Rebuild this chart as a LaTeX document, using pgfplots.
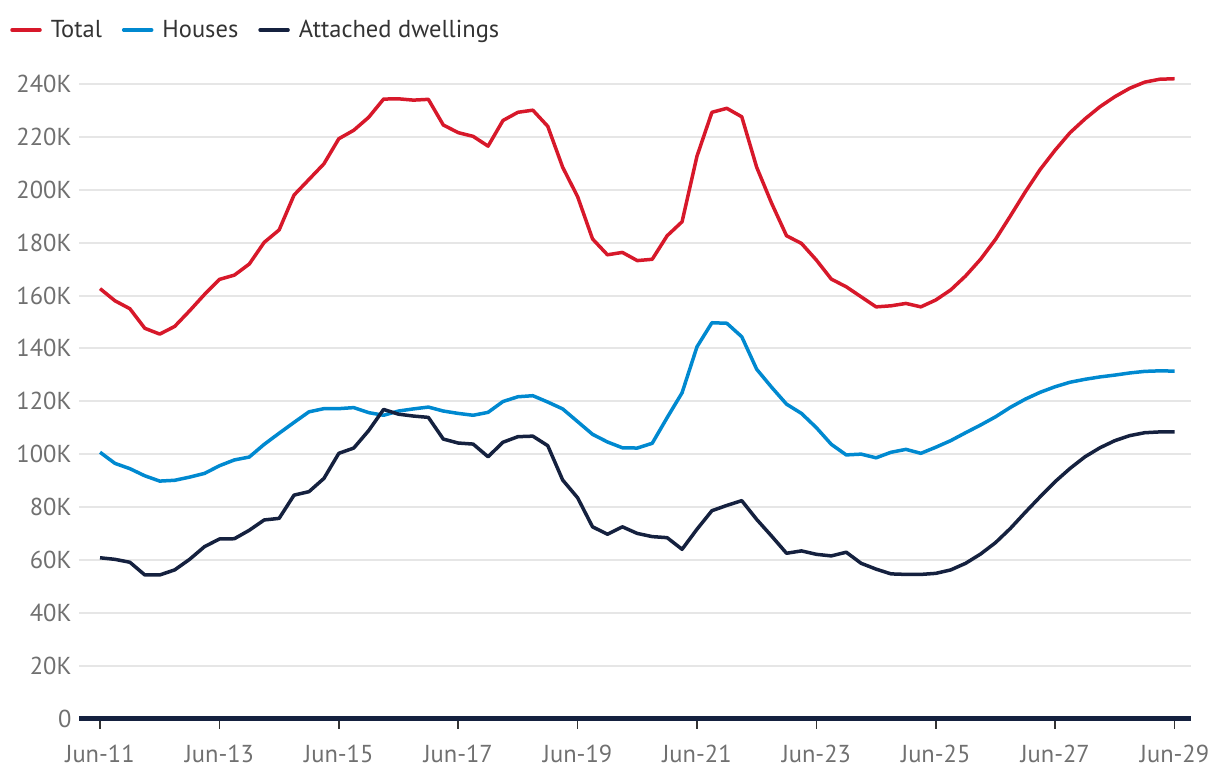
\documentclass[border=0pt]{standalone}
\usepackage{fontspec}
\setmainfont{PT Sans}
\usepackage{pgfplots}
\usepackage{pgfplotstable}
\pgfplotsset{compat=1.18}
\definecolor{cTotal}{HTML}{D7182A}
\definecolor{cHouses}{HTML}{0089D0}
\definecolor{cAtt}{HTML}{15213F}
\definecolor{cGrid}{HTML}{E6E6E6}
\definecolor{cTick}{HTML}{707070}
\definecolor{cText}{HTML}{333333}
\pgfplotstableread{
q total houses attached
0 162.6 100.7 60.8
1 158.0 96.5 60.2
2 155.0 94.5 59.1
3 147.6 91.8 54.3
4 145.4 89.8 54.3
5 148.3 90.1 56.2
6 154.2 91.3 60.2
7 160.4 92.7 65.0
8 166.1 95.6 67.9
9 167.7 97.8 68.0
10 171.9 98.9 71.2
11 180.1 103.7 75.1
12 184.8 107.9 75.7
13 198.0 112.0 84.5
14 203.9 116.0 85.8
15 209.8 117.2 90.8
16 219.3 117.2 100.3
17 222.5 117.6 102.3
18 227.4 115.7 108.9
19 234.3 114.7 116.9
20 234.4 116.3 115.1
21 233.9 117.1 114.4
22 234.2 117.8 113.9
23 224.5 116.3 105.7
24 221.6 115.4 104.2
25 220.2 114.7 103.8
26 216.5 115.8 99.0
27 226.2 119.9 104.5
28 229.3 121.7 106.6
29 230.1 122.1 106.8
30 224.0 119.7 103.2
31 208.5 117.1 90.2
32 197.4 112.3 83.5
33 181.4 107.5 72.5
34 175.4 104.6 69.7
35 176.3 102.4 72.5
36 173.2 102.3 70.0
37 173.7 104.1 68.8
38 182.6 113.8 68.4
39 187.9 123.2 64.0
40 212.7 140.6 71.6
41 229.3 149.7 78.6
42 230.8 149.5 80.6
43 227.6 144.4 82.4
44 208.5 132.1 75.3
45 194.9 125.3 69.0
46 182.6 118.9 62.5
47 179.7 115.4 63.4
48 173.4 110.0 62.1
49 166.2 103.7 61.5
50 163.3 99.7 62.9
51 159.5 100.0 58.7
52 155.7 98.6 56.5
53 156.1 100.7 54.7
54 157.0 101.8 54.5
55 155.7 100.3 54.5
56 158.3 102.6 54.9
57 162.1 105.1 56.2
58 167.4 108.1 58.7
59 173.7 111.0 62.2
60 181.2 114.1 66.5
61 190.1 117.7 71.9
62 199.2 120.8 78.0
63 207.7 123.4 83.9
64 215.0 125.5 89.6
65 221.6 127.2 94.6
66 226.8 128.3 99.0
67 231.4 129.2 102.4
68 235.2 129.9 105.1
69 238.4 130.7 107.0
70 240.7 131.3 108.1
71 241.8 131.5 108.4
72 242.0 131.4 108.4
}\datatable
\begin{document}
\begin{tikzpicture}
\path[use as bounding box] (0bp,0bp) rectangle (1220bp,784bp);
\begin{axis}[
  at={(79bp,65.5bp)}, anchor=south west,
  scale only axis, width=1112bp, height=648.5bp,
  xmin=-1.41, xmax=73.1, ymin=0, ymax=245.3,
  axis x line*=bottom, axis y line*=left,
  y axis line style={draw=none},
  x axis line style={line width=4bp, color=cAtt, -},
  every outer x axis line/.append style={line width=4bp, color=cAtt},
  xtick={0,8,...,72},
  xticklabels={Jun-11,Jun-13,Jun-15,Jun-17,Jun-19,Jun-21,Jun-23,Jun-25,Jun-27,Jun-29},
  xtick align=outside,
  major tick length=10bp,
  x tick style={line width=1.5bp, color=cText},
  ytick={0,20,...,240},
  yticklabels={0,20K,40K,60K,80K,100K,120K,140K,160K,180K,200K,220K,240K},
  y tick style={draw=none},
  ymajorgrids,
  y grid style={line width=2bp, color=cGrid},
  every tick label/.append style={font=\fontsize{24.5bp}{29bp}\selectfont, text=cTick},
  yticklabel style={xshift=-4bp},
  xticklabel style={yshift=-13bp},
  legend style={draw=none, fill=none, at={(-0.062,1.0617)}, anchor=west,
    font=\fontsize{24.5bp}{29bp}\selectfont, text=cText, inner sep=0pt,
    /tikz/every odd column/.append style={column sep=7bp},
    /tikz/every even column/.append style={column sep=18bp}},
  legend columns=-1,
  legend image code/.code={\draw[#1, line width=3.5bp, line cap=round] (0bp,0bp) -- (28bp,0bp);},
  every axis plot/.append style={line width=3.5bp, line join=round},
  clip=false,
]
\addplot[cTotal] table[x=q, y=total] {\datatable};
\addlegendentry{Total}
\addplot[cHouses] table[x=q, y=houses] {\datatable};
\addlegendentry{Houses}
\addplot[cAtt] table[x=q, y=attached] {\datatable};
\addlegendentry{Attached dwellings}
\draw[cAtt, line width=4bp] (axis cs:-1.41,0) -- (axis cs:73.1,0);
\end{axis}
\end{tikzpicture}
\end{document}
